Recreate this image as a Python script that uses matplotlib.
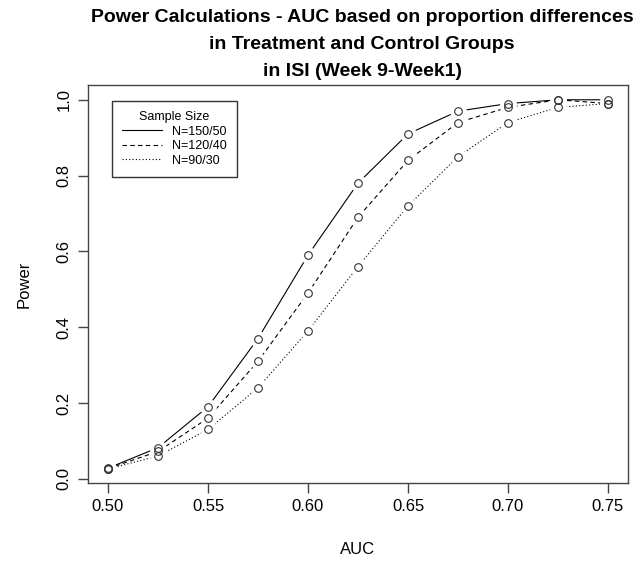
# Power curves for AUC by sample size
import matplotlib
matplotlib.use("Agg")
import matplotlib.pyplot as plt

plt.rcParams["font.family"] = ["Liberation Sans", "DejaVu Sans"]

# Data
auc = [0.500, 0.525, 0.550, 0.575, 0.600, 0.625, 0.650, 0.675, 0.700, 0.725, 0.750]
power_150_50 = [0.028, 0.082, 0.19, 0.37, 0.59, 0.78, 0.91, 0.97, 0.99, 1.00, 1.00]
power_120_40 = [0.027, 0.072, 0.16, 0.31, 0.49, 0.69, 0.84, 0.94, 0.98, 1.00, 0.99]
power_90_30 = [0.026, 0.060, 0.13, 0.24, 0.39, 0.56, 0.72, 0.85, 0.94, 0.98, 0.99]

series = [
    ("N=150/50", power_150_50, "-"),
    ("N=120/40", power_120_40, (0, (4, 3))),
    ("N=90/30", power_90_30, (0, (1, 2))),
]

fig = plt.figure(figsize=(6.4, 5.64), dpi=100)
ax = fig.add_axes([88 / 640, 1 - 482.7 / 564, 540 / 640, 397.7 / 564])

# lines first, then white halos to leave the gap around each point (R type="b")
handles = []
for label, vals, ls in series:
    h, = ax.plot(auc, vals, color="black", linestyle=ls, linewidth=0.8, label=label)
    handles.append(h)
for label, vals, ls in series:
    ax.plot(auc, vals, linestyle="none", marker="o", markersize=11,
            markerfacecolor="white", markeredgecolor="white")
for label, vals, ls in series:
    ax.plot(auc, vals, linestyle="none", marker="o", markersize=5.5,
            markerfacecolor="none", markeredgecolor="#333333", markeredgewidth=0.8)

ax.set_xlim(0.49, 0.76)
ax.set_ylim(-0.0104, 1.039)
ax.set_xticks([0.50, 0.55, 0.60, 0.65, 0.70, 0.75])
ax.set_xticklabels(["0.50", "0.55", "0.60", "0.65", "0.70", "0.75"])
ax.set_yticks([0.0, 0.2, 0.4, 0.6, 0.8, 1.0])
ax.set_yticklabels(["0.0", "0.2", "0.4", "0.6", "0.8", "1.0"], rotation=90, va="center")
ax.tick_params(direction="out", length=7, width=1, colors="#444444", labelsize=12,
               labelcolor="black", pad=5)
for sp in ax.spines.values():
    sp.set_color("#444444")
    sp.set_linewidth(1)

ax.set_xlabel("AUC", fontsize=12, labelpad=20)
ax.set_ylabel("Power", fontsize=12, labelpad=18)

fig.suptitle("Power Calculations - AUC based on proportion differences\n"
             "in Treatment and Control Groups\nin ISI (Week 9-Week1)",
             x=0.566, y=0.984, fontsize=14, fontweight="bold", linespacing=1.75)

leg = ax.legend(handles=handles, title="Sample Size", loc="upper left",
                bbox_to_anchor=(0.033, 0.975), fontsize=9, title_fontsize=9,
                frameon=True, fancybox=False, edgecolor="black", handlelength=3.2,
                borderpad=0.8, labelspacing=0.2)
leg.get_frame().set_linewidth(1)

fig.savefig("out.png", dpi=100)
